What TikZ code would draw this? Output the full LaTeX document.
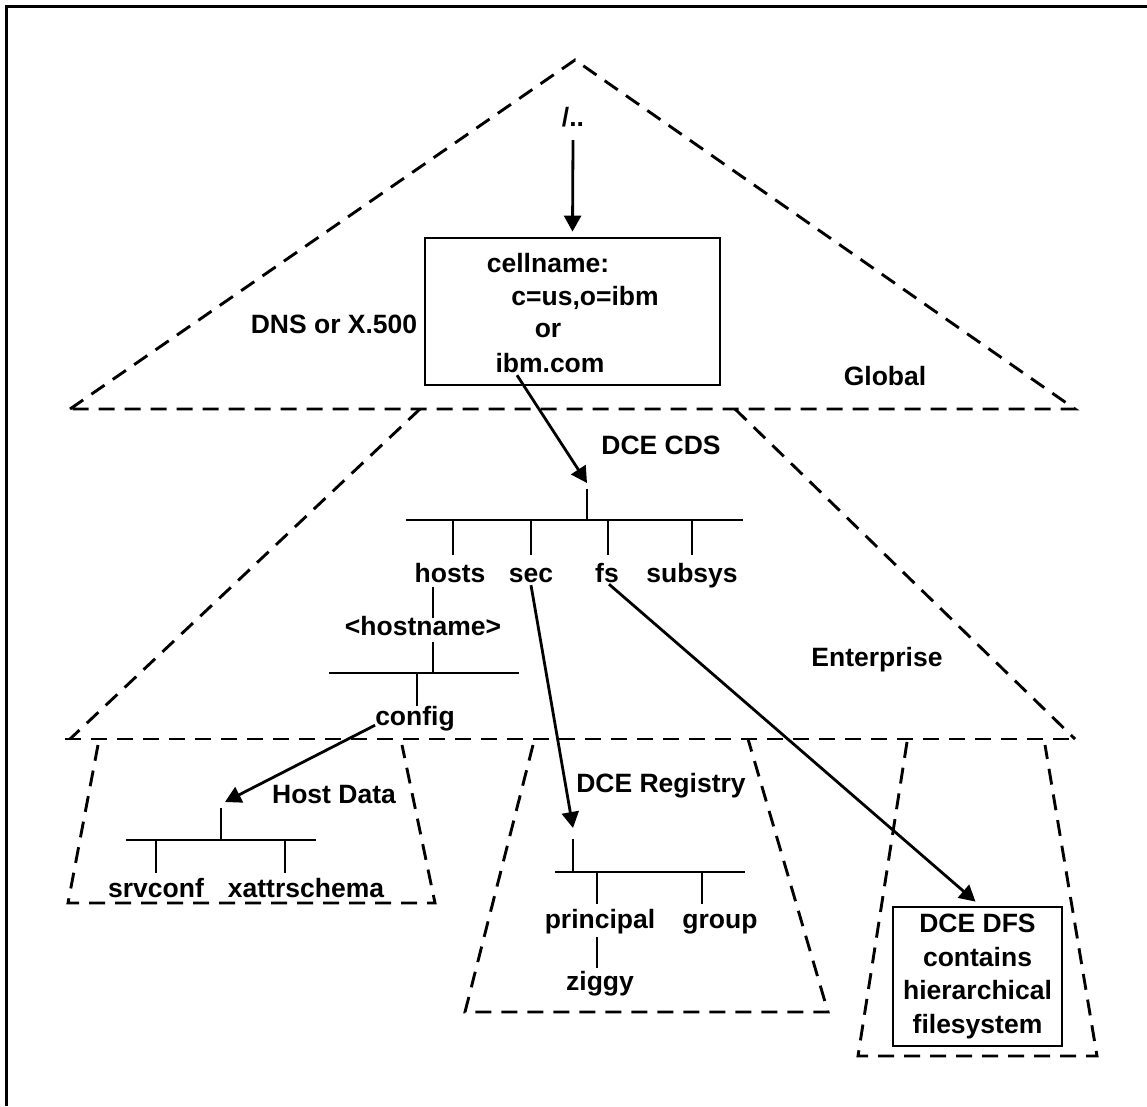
\documentclass[tikz,border=0pt]{standalone}
\usepackage{fontspec}
\setmainfont{Liberation Sans}
\usetikzlibrary{arrows.meta,calc}
\begin{document}
\begin{tikzpicture}[x=1pt,y=-1pt,
  lbl/.style={inner sep=0pt, text height=19pt, text depth=0pt,
              font=\bfseries\fontsize{26.5}{33.5}\selectfont},
  zone/.style={dash pattern=on 16pt off 10pt, line width=2.9pt},
  branch/.style={line width=2.8pt},
  link/.style={line width=2.8pt, -{Triangle[length=16pt,width=17pt]}},
  box/.style={draw, line width=2.8pt, inner sep=0pt},
  frame/.style={line width=3pt}]
\useasboundingbox (0,0) rectangle (1147,1106);

% outer frame (top and left edges)
\draw[frame] (6,1106) -- (6,6) -- (1147,6);

% naming levels
\draw[zone] (70,409) -- (575,60) -- (1075,409) -- cycle;
\draw[zone] (420,409) -- (70,739);
\draw[zone] (735,409) -- (1075,739);
\draw[zone] (65,739) -- (1075,739);
\draw[zone] (98,745) -- (68,903) -- (435,903) -- (402,745);
\draw[zone] (533,745) -- (465,1012) -- (828,1012) -- (748,739);
\draw[zone] (907,742) -- (858,1056) -- (1097,1056) -- (1045,745);

% level labels
\node[lbl] (dns)   at (334,323.5) {DNS or X.500};
\node[lbl] (glob)  at (885,375.5) {Global};
\node[lbl] (cds)   at (661,444.5) {DCE CDS};
\node[lbl] (ent)   at (877,656.5) {Enterprise};
\node[lbl] (hdata) at (334,793.5) {Host Data};
\node[lbl] (reg)   at (661,782.5) {DCE Registry};

% global root and cell name
\node[lbl] (root) at (573,116.5) {/..};
\node[box, minimum width=295pt, minimum height=147pt] (cell) at (572.5,311.5) {};
\node[lbl] (cn)     at (548,262.5) {cellname:};
\node[lbl] (x500)   at (585,295.5) {c=us,o=ibm};
\node[lbl] (or)     at (548,327.5) {or};
\node[lbl] (ibmcom) at (550,362.5) {ibm.com};

% CDS namespace
\coordinate (cdsstub) at (587,489);
\coordinate (cdsbar)  at (587,520);
\draw[branch] (cdsstub) -- (cdsbar);
\draw[branch] (406,520) -- (743,520);
\node[lbl] (hosts)  at (450,572.5) {hosts};
\node[lbl] (sec)    at (531,572.5) {sec};
\node[lbl] (fs)     at (607,572.5) {fs};
\node[lbl] (subsys) at (692,572.5) {subsys};
\draw[branch] (453,520) -- (453,555);
\draw[branch] (531,520) -- (531,555);
\draw[branch] (608,520) -- (608,555);
\draw[branch] (692,520) -- (692,555);

\node[lbl] (hostname) at (423,625.5) {<hostname>};
\node[lbl] (config)   at (415,715.5) {config};
\draw[branch] (433,587) -- (433,618);
\draw[branch] (433,642) -- (433,673);
\draw[branch] (329,673) -- (519,673);
\draw[branch] (417,673) -- (417,706);

% host data
\coordinate (hoststub) at (221,808);
\draw[branch] (hoststub) -- (221,840);
\draw[branch] (126,840) -- (316,840);
\draw[branch] (156,840) -- (156,873);
\draw[branch] (285,840) -- (285,873);
\node[lbl] (srvconf) at (156,887.5) {srvconf};
\node[lbl] (xattr)   at (306,887.5) {xattrschema};

% registry
\coordinate (regstub) at (573,839);
\draw[branch] (regstub) -- (573,872);
\draw[branch] (555,872) -- (745,872);
\draw[branch] (597,872) -- (597,904);
\draw[branch] (702,872) -- (702,904);
\node[lbl] (principal) at (600,918.5) {principal};
\node[lbl] (group)     at (720,918.5) {group};
\draw[branch] (597,937) -- (597,968);
\node[lbl] (ziggy)     at (600,980.5) {ziggy};

% DFS
\node[box, minimum width=169pt, minimum height=139pt, align=center,
      font=\bfseries\fontsize{26.5}{33.5}\selectfont] (dfs) at (977.5,976.5)
  {DCE DFS\\contains\\hierarchical\\filesystem};

% junctions
\draw[link] ([yshift=-14pt]root.south) -- ([yshift=5pt]cell.north);
\draw[link] ([xshift=-33pt,yshift=-3pt]ibmcom.south) -- ([yshift=6pt]cdsstub);
\draw[link] (config.south west) -- ([xshift=4pt,yshift=6pt]hoststub);
\draw[link] ([yshift=-3pt]sec.south) -- ([yshift=11pt]regstub);
\draw[link] ([xshift=2pt,yshift=-2pt]fs.south) -- ([xshift=-2pt,yshift=4pt]dfs.north);
\end{tikzpicture}
\end{document}
